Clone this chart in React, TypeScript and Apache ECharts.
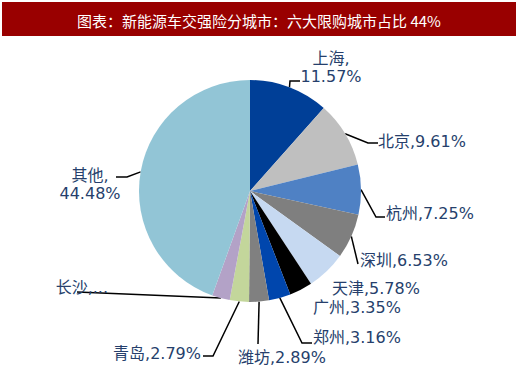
import React, { useEffect, useRef } from "react";
import * as echarts from "echarts";

const titleText = "图表：新能源车交强险分城市：六大限购城市占比 44%";
const cities = ["上海", "北京", "杭州", "深圳", "天津", "广州", "郑州", "潍坊", "青岛", "长沙", "其他"];
const shares = [11.57, 9.61, 7.25, 6.53, 5.78, 3.35, 3.16, 2.89, 2.79, 2.59, 44.48];
const sliceColors = [
  "#003F97", "#BFBFBF", "#4F81C4", "#7F7F7F", "#C6D9F1", "#000000",
  "#0046AD", "#808080", "#C3D69B", "#B3A2C7", "#92C5D6",
];

// label placement: [x, y(center), align]
const labelSpots: [number, number, string][] = [
  [331, 67, "center"],
  [378, 141, "left"],
  [386, 213, "left"],
  [360, 260, "left"],
  [332, 288, "left"],
  [313, 307, "left"],
  [313, 337, "left"],
  [238, 357, "left"],
  [201, 353, "right"],
  [108, 287, "right"],
  [90, 184, "center"],
];
// leader line points after the anchor on the slice edge (null = no line)
const leaderPaths: (number[][] | null)[] = [
  [[290, 81], [300, 81]],
  [[368, 143], [378, 143]],
  [[376, 217], [385, 217]],
  [[358, 264]],
  null,
  null,
  [[302, 343], [312, 343]],
  [[258, 344]],
  [[213, 356], [203, 356]],
  [[77, 292]],
  [[127, 177], [116, 177]],
];

function labelText(i: number): string {
  const name = cities[i];
  const v = shares[i].toFixed(2) + "%";
  if (i === 0 || i === cities.length - 1) return name + ",\n" + v;
  if (name === "长沙") return name + ",...";
  return name + "," + v;
}

export default function App() {
  const ref = useRef<HTMLDivElement>(null);
  useEffect(() => {
    if (!ref.current) return;
    const chart = echarts.init(ref.current, undefined, { renderer: "svg" });
    const data = cities.map((c, i) => ({
      name: c,
      value: shares[i],
      itemStyle: { color: sliceColors[i] },
      labelLine: { show: leaderPaths[i] != null },
    }));
    chart.setOption({
      animation: false,
      backgroundColor: "#ffffff",
      graphic: [
        {
          type: "rect",
          z: 0,
          shape: { x: 2, y: 2, width: 514, height: 34 },
          style: { fill: "#990000" },
        },
        {
          type: "text",
          z: 1,
          style: {
            x: 259,
            y: 20,
            text: titleText,
            fill: "#ffffff",
            font: "15px 'Noto Sans CJK SC'",
            textAlign: "center",
            textVerticalAlign: "middle",
          },
        },
      ],
      series: [
        {
          type: "pie",
          center: [250, 191],
          radius: 111,
          startAngle: 90,
          clockwise: true,
          avoidLabelOverlap: false,
          data,
          label: {
            show: true,
            position: "outside",
            formatter: (p: any) => labelText(p.dataIndex),
            color: "#263F6C",
            fontSize: 16,
            lineHeight: 18,
            fontFamily: "'DejaVu Sans', 'Noto Sans CJK SC', sans-serif",
          },
          labelLine: {
            show: true,
            lineStyle: { color: "#000000", width: 1.5 },
          },
          labelLayout: (params: any) => {
            const i = params.dataIndex;
            const spot = labelSpots[i];
            const res: any = {
              x: spot[0],
              y: spot[1],
              align: spot[2],
              verticalAlign: "middle",
            };
            const path = leaderPaths[i];
            const pts = params.labelLinePoints;
            if (path && pts && pts.length) {
              res.labelLinePoints = [pts[0], ...path];
            }
            return res;
          },
          emphasis: { disabled: true },
        },
      ],
    });
    return () => chart.dispose();
  }, []);
  return (
    <div
      ref={ref}
      style={{ position: "fixed", left: 0, top: 0, width: 520, height: 365 }}
    />
  );
}
